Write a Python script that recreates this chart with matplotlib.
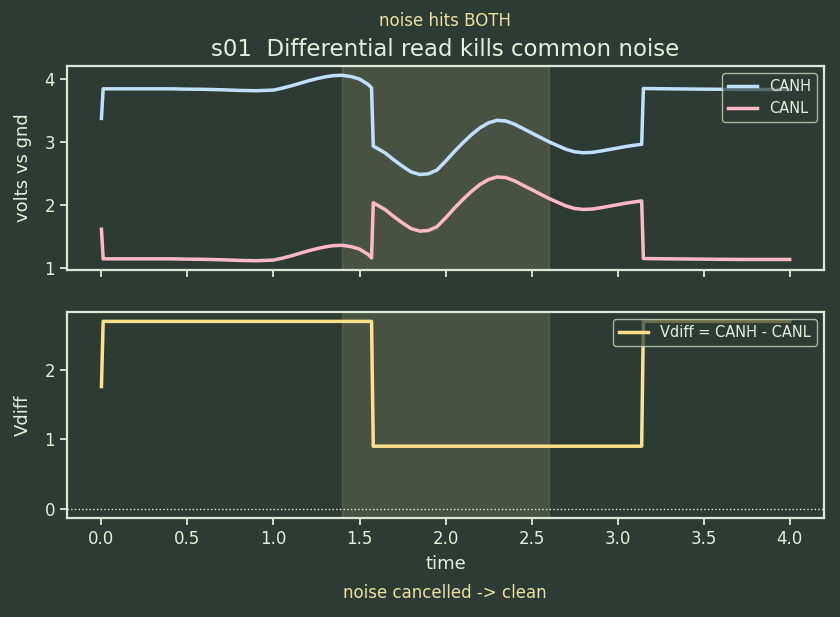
import matplotlib
matplotlib.use('Agg')
import matplotlib.pyplot as plt

# --- Colours ---
BG      = '#2c3b34'
FG      = '#e6eee2'
SPINE   = '#dde8d8'
NOTE    = '#f0e0a0'
C_CANH  = '#bfe0ff'
C_CANL  = '#ffb8c8'
C_VDIFF = '#ffe08a'

# --- Data ---
time = [0.0, 0.01, 0.1, 0.2, 0.3, 0.4, 0.5, 0.6, 0.7, 0.8, 0.9, 1.0,
        1.05, 1.1, 1.15, 1.2, 1.25, 1.3, 1.35, 1.4, 1.45, 1.5, 1.55, 1.57,
        1.58, 1.6, 1.65, 1.7, 1.75, 1.8, 1.85, 1.9, 1.95, 2.0, 2.05, 2.1,
        2.15, 2.2, 2.25, 2.3, 2.35, 2.4, 2.45, 2.5, 2.55, 2.6, 2.65, 2.7,
        2.75, 2.8, 2.85, 2.9, 2.95, 3.0, 3.05, 3.1, 3.14,
        3.15, 3.3, 3.5, 3.7, 4.0]

canh = [3.38, 3.85, 3.85, 3.85, 3.85, 3.85, 3.845, 3.842, 3.835, 3.825, 3.82, 3.83,
        3.86, 3.895, 3.935, 3.975, 4.01, 4.04, 4.06, 4.065, 4.045, 4.005, 3.92, 3.865,
        2.94, 2.91, 2.83, 2.72, 2.62, 2.53, 2.49, 2.50, 2.56, 2.70, 2.85, 2.99,
        3.12, 3.23, 3.31, 3.35, 3.34, 3.29, 3.22, 3.15, 3.08, 3.01, 2.95, 2.89,
        2.85, 2.835, 2.84, 2.86, 2.885, 2.91, 2.935, 2.955, 2.97,
        3.855, 3.85, 3.845, 3.84, 3.84]

canl = [1.62, 1.15, 1.15, 1.15, 1.15, 1.15, 1.145, 1.142, 1.135, 1.125, 1.12, 1.13,
        1.16, 1.195, 1.235, 1.275, 1.31, 1.34, 1.36, 1.365, 1.345, 1.305, 1.22, 1.165,
        2.04, 2.01, 1.93, 1.82, 1.72, 1.63, 1.59, 1.60, 1.66, 1.80, 1.95, 2.09,
        2.22, 2.33, 2.41, 2.45, 2.44, 2.39, 2.32, 2.25, 2.18, 2.11, 2.05, 1.99,
        1.95, 1.935, 1.94, 1.96, 1.985, 2.01, 2.035, 2.055, 2.07,
        1.155, 1.15, 1.145, 1.14, 1.14]

vdiff = [1.76, 2.7, 2.7, 2.7, 2.7, 2.7, 2.7, 2.7, 2.7, 2.7, 2.7, 2.7,
         2.7, 2.7, 2.7, 2.7, 2.7, 2.7, 2.7, 2.7, 2.7, 2.7, 2.7, 2.7,
         0.9, 0.9, 0.9, 0.9, 0.9, 0.9, 0.9, 0.9, 0.9, 0.9, 0.9, 0.9,
         0.9, 0.9, 0.9, 0.9, 0.9, 0.9, 0.9, 0.9, 0.9, 0.9, 0.9, 0.9,
         0.9, 0.9, 0.9, 0.9, 0.9, 0.9, 0.9, 0.9, 0.9,
         2.7, 2.7, 2.7, 2.7, 2.7]

noise_window = (1.4, 2.6)
top_yticks = [1, 2, 3, 4]
bot_yticks = [0, 1, 2]

# --- Figure ---
fig = plt.figure(figsize=(8.4, 6.17), dpi=100, facecolor=BG)
ax1 = fig.add_axes([0.0798, 0.5624, 0.9012, 0.3306])
ax2 = fig.add_axes([0.0798, 0.1605, 0.9012, 0.3338], sharex=ax1)

for ax in (ax1, ax2):
    ax.set_facecolor(BG)
    for sp in ax.spines.values():
        sp.set_color(SPINE)
        sp.set_linewidth(1.6)
    ax.tick_params(colors=SPINE, labelcolor=FG, labelsize=12, width=1.3, length=5)
    ax.axvspan(*noise_window, color=NOTE, alpha=0.14)

ax1.plot(time, canh, color=C_CANH, lw=2.5, label='CANH')
ax1.plot(time, canl, color=C_CANL, lw=2.5, label='CANL')
ax1.set_yticks(top_yticks)
ax1.set_ylabel('volts vs gnd', color=FG, fontsize=13, labelpad=9)
ax1.set_title('s01  Differential read kills common noise', color=FG, fontsize=16.5, pad=7)
ax1.tick_params(labelbottom=False)
ax1.legend(loc='upper right', fontsize=10.5, facecolor=BG, edgecolor=SPINE,
           labelcolor=FG, framealpha=0.7)

ax2.plot(time, vdiff, color=C_VDIFF, lw=2.5, label='Vdiff = CANH - CANL')
ax2.axhline(0, color=FG, lw=1, ls=':')
ax2.set_yticks(bot_yticks)
ax2.set_ylabel('Vdiff', color=FG, fontsize=13, labelpad=9)
ax2.set_xlabel('time', color=FG, fontsize=13, labelpad=5)
ax2.legend(loc='upper right', fontsize=10.5, facecolor=BG, edgecolor=SPINE,
           labelcolor=FG, framealpha=0.7)

fig.text(0.53, 0.966, 'noise hits BOTH', color=NOTE, fontsize=12, ha='center', va='center')
fig.text(0.53, 0.039, 'noise cancelled -> clean', color=NOTE, fontsize=12, ha='center', va='center')

fig.savefig('out.png', dpi=100, facecolor=BG)
